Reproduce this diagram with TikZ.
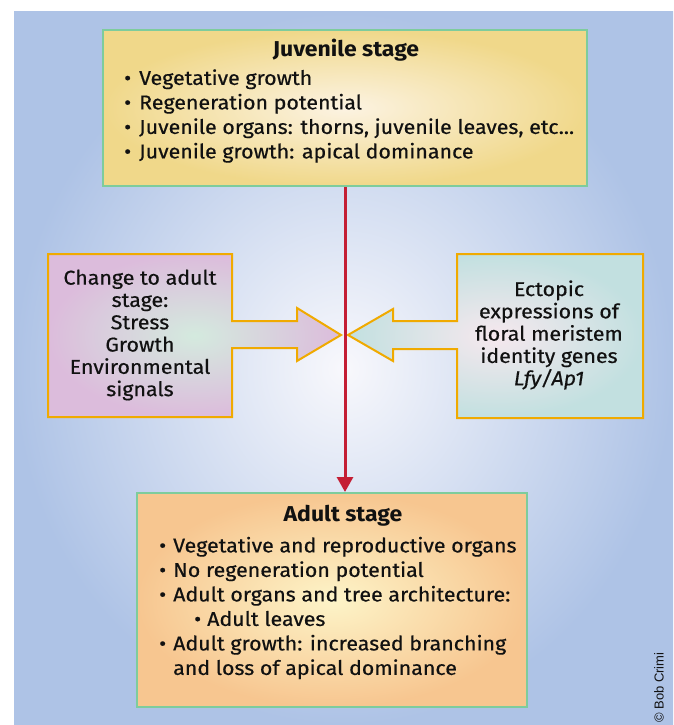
\documentclass[tikz,border=0pt]{standalone}
\usepackage{fontspec}
\setmainfont{Fira Sans}[FakeStretch=1.07]
\newfontfamily\medfont{Fira Sans}[FakeStretch=1.07, FakeBold=0.5]
\newfontfamily\crfont{Liberation Sans}
\usetikzlibrary{arrows.meta}
\definecolor{bgin}{HTML}{F8F8FC}
\definecolor{bgout}{HTML}{AEC3E6}
\definecolor{juvin}{HTML}{FCF3E2}
\definecolor{juvout}{HTML}{F0D88A}
\definecolor{adin}{HTML}{FDF4C8}
\definecolor{adout}{HTML}{F7C690}
\definecolor{lin}{HTML}{D4EADE}
\definecolor{lout}{HTML}{DCBCDC}
\definecolor{rin}{HTML}{F6E8EE}
\definecolor{rout}{HTML}{C2E0E0}
\definecolor{gborder}{HTML}{7ECC9C}
\definecolor{oborder}{HTML}{F0AA00}
\definecolor{redarr}{HTML}{C41E34}
\definecolor{ink}{HTML}{111111}
\begin{document}
\begin{tikzpicture}[x=1pt,y=-1pt,
  stagebox/.style={draw=gborder, line width=2pt, inner sep=0pt},
  sidebox/.style={draw=oborder, line width=2pt, line join=miter},
  body/.style={font=\medfont\fontsize{20}{24.5}\selectfont, text=ink, inner sep=0pt, align=left},
  side/.style={font=\medfont\fontsize{20}{22.3}\selectfont, text=ink, inner sep=0pt, align=center},
  title/.style={font=\fontsize{21.5}{24}\selectfont\bfseries, text=ink, inner sep=0pt},
  redline/.style={draw=redarr, line width=3pt, -{Triangle[width=16pt,length=15pt]}}
]
\useasboundingbox (0,0) rectangle (673,725);
% background
\shade[inner color=bgin, outer color=bgout] (14,12) rectangle (673,725);

% juvenile stage
\node[stagebox, inner color=juvin, outer color=juvout, minimum width=484pt, minimum height=156pt] (juv) at (345,108) {};
\node[title] (juvt) at (346,50) {Juvenile stage};
\node[body, anchor=west] (juvl) at (124,116) {%
\makebox[15pt][l]{•}Vegetative growth\\
\makebox[15pt][l]{•}Regeneration potential\\
\makebox[15pt][l]{•}Juvenile organs: thorns, juvenile leaves, etc...\\
\makebox[15pt][l]{•}Juvenile growth: apical dominance};

% left box with arrow
\shadedraw[sidebox, inner color=lin, outer color=lout]
  (48,254) -- (232,254) -- (232,321) -- (297,321) -- (297,308) -- (341,335)
  -- (297,361) -- (297,348) -- (232,348) -- (232,417) -- (48,417) -- cycle;
\node[side] (chg) at (140,335) {Change to adult\\stage:\\Stress\\Growth\\Environmental\\signals};

% right box with arrow
\shadedraw[sidebox, inner color=rin, outer color=rout]
  (643,254) -- (457,254) -- (457,321) -- (393,321) -- (393,309) -- (348,335)
  -- (393,361) -- (393,349) -- (457,349) -- (457,418) -- (643,418) -- cycle;
\node[side] (ect) at (549,335) {Ectopic\\expressions of\\floral meristem\\identity genes\\\textit{Lfy/Ap1}};

% adult stage
\node[stagebox, inner color=adin, outer color=adout, minimum width=390pt, minimum height=214pt] (adult) at (332,600) {};
\node[title] (adt) at (343,516) {Adult stage};
\node[body, anchor=west] (adl) at (159,608) {%
\makebox[14pt][l]{•}Vegetative and reproductive organs\\
\makebox[14pt][l]{•}No regeneration potential\\
\makebox[14pt][l]{•}Adult organs and tree architecture:\\
\hspace*{35pt}\makebox[13pt][l]{•}Adult leaves\\
\makebox[14pt][l]{•}Adult growth: increased branching\\
\hspace*{14pt}and loss of apical dominance};

% red transition arrow
\draw[redline] (juv.south) -- (juv.south |- adult.north);

% credit
\node[rotate=90, anchor=west, inner sep=0pt, font=\crfont\fontsize{13}{15}\selectfont, text=ink] (cr) at (659,723) {© Bob Crimi};
\end{tikzpicture}
\end{document}
